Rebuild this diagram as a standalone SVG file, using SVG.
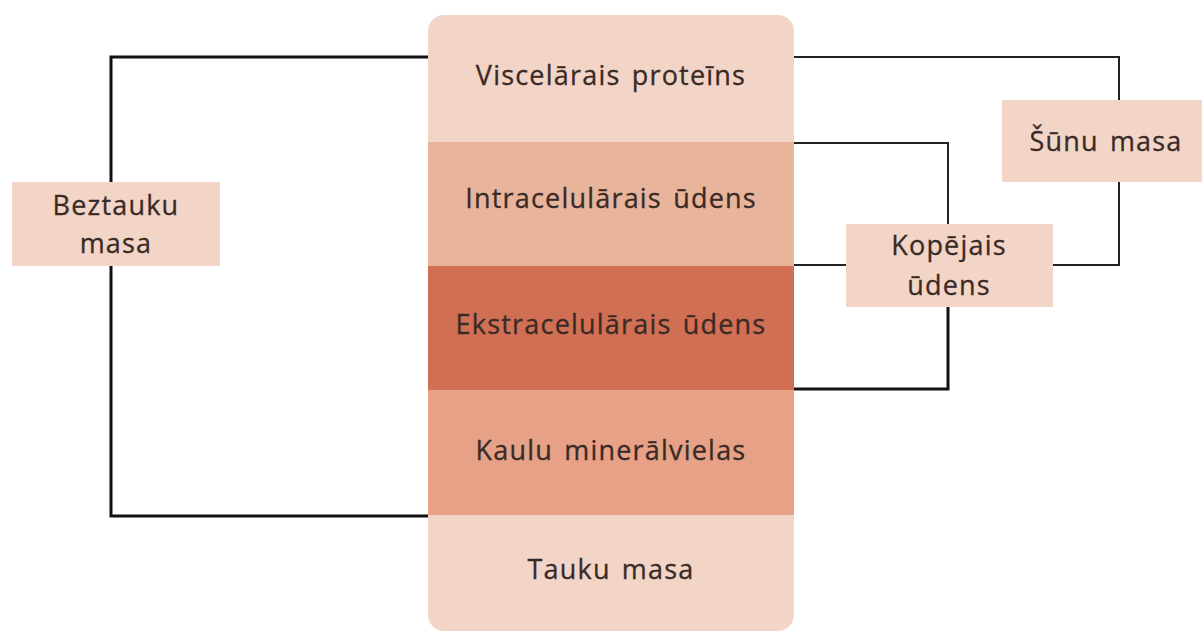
<svg xmlns="http://www.w3.org/2000/svg" width="1202" height="633" viewBox="0 0 1202 633">
<style>
text{font-family:"Open Sans","Liberation Sans",Arial,sans-serif;font-size:27px;fill:#3a2a26;stroke:#3a2a26;stroke-width:0.3px;text-anchor:middle;letter-spacing:1.2px;word-spacing:3px}
.ln{fill:none;stroke:#222;stroke-width:2}
.lnb{fill:none;stroke:#111;stroke-width:3}
.lbl{fill:#f2d5c7}
</style>
<defs>
<clipPath id="col"><rect x="428" y="15" width="366" height="616" rx="16"/></clipPath>
</defs>
<rect width="1202" height="633" fill="#fff"/>
<g id="connectors">
<path class="lnb" d="M428 57 H111 V516 H428"/>
<path class="ln" d="M794 57 H1119 V265 H1053"/>
<path class="ln" d="M794 265 H846"/>
<path class="ln" d="M794 143 H948 V224"/>
<path class="lnb" d="M948 307 V389 H794"/>
</g>
<g id="column" clip-path="url(#col)">
<g id="visceral"><rect x="428" y="15" width="366" height="127" fill="#f2d5c7"/><text x="611" y="85">Viscelārais proteīns</text></g>
<g id="intracellular"><rect x="428" y="142" width="366" height="124" fill="#e8b49b"/><text x="611" y="208">Intracelulārais ūdens</text></g>
<g id="extracellular"><rect x="428" y="266" width="366" height="124" fill="#d06f53"/><text x="611" y="334">Ekstracelulārais ūdens</text></g>
<g id="bone"><rect x="428" y="390" width="366" height="125" fill="#e6a186"/><text x="611" y="460">Kaulu minerālvielas</text></g>
<g id="fat"><rect x="428" y="515" width="366" height="116" fill="#f2d5c7"/><text x="611" y="579">Tauku masa</text></g>
</g>
<g id="beztauku"><rect class="lbl" x="12" y="182" width="208" height="84"/><text x="116" y="215">Beztauku</text><text x="116" y="253">masa</text></g>
<g id="sunu"><rect class="lbl" x="1002" y="100" width="200" height="82"/><text x="1106" y="151">Šūnu masa</text></g>
<g id="kopejais"><rect class="lbl" x="846" y="224" width="207" height="83"/><text x="949" y="255">Kopējais</text><text x="949" y="295">ūdens</text></g>
</svg>
